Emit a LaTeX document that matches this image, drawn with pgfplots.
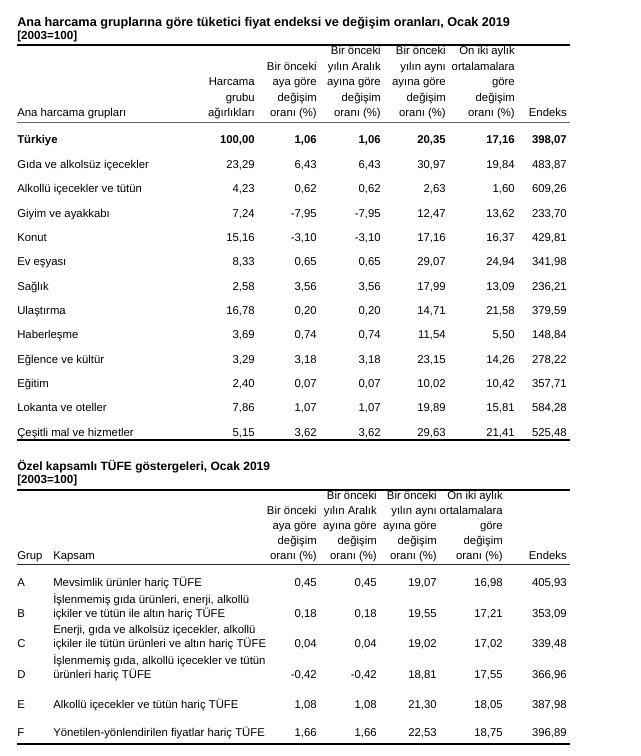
\documentclass[border=0pt]{standalone}
\usepackage{fontspec}
\setmainfont{Liberation Sans}
\usepackage{pgfplots}
\usepackage{pgfplotstable}
\pgfplotsset{compat=1.18}

% ---------- Table 1: Ana harcama grupları ----------
\pgfplotstableread{
i w aylik aralik yillik ortalama endeks
0 100.00 1.06 1.06 20.35 17.16 398.07
}\tabTR
\pgfplotstableread{
i w aylik aralik yillik ortalama endeks
1 23.29 6.43 6.43 30.97 19.84 483.87
2 4.23 0.62 0.62 2.63 1.60 609.26
3 7.24 -7.95 -7.95 12.47 13.62 233.70
4 15.16 -3.10 -3.10 17.16 16.37 429.81
5 8.33 0.65 0.65 29.07 24.94 341.98
6 2.58 3.56 3.56 17.99 13.09 236.21
7 16.78 0.20 0.20 14.71 21.58 379.59
8 3.69 0.74 0.74 11.54 5.50 148.84
9 3.29 3.18 3.18 23.15 14.26 278.22
10 2.40 0.07 0.07 10.02 10.42 357.71
11 7.86 1.07 1.07 19.89 15.81 584.28
12 5.15 3.62 3.62 29.63 21.41 525.48
}\tabGroups
\pgfplotstableread{
i t
1 {Gıda ve alkolsüz içecekler}
2 {Alkollü içecekler ve tütün}
3 {Giyim ve ayakkabı}
4 {Konut}
5 {Ev eşyası}
6 {Sağlık}
7 {Ulaştırma}
8 {Haberleşme}
9 {Eğlence ve kültür}
10 {Eğitim}
11 {Lokanta ve oteller}
12 {Çeşitli mal ve hizmetler}
}\tabGroupNames
\pgfplotstableread{
x y t
255 86 Harcama
255 101.5 grubu
255 117 ağırlıkları
317 70.5 {Bir önceki}
317 86 {aya göre}
317 101.5 değişim
317 117 {oranı (\%)}
381 55 {Bir önceki}
381 70.5 {yılın Aralık}
381 86 {ayına göre}
381 101.5 değişim
381 117 {oranı (\%)}
446 55 {Bir önceki}
446 70.5 {yılın aynı}
446 86 {ayına göre}
446 101.5 değişim
446 117 {oranı (\%)}
515 55 {On iki aylık}
515 70.5 ortalamalara
515 86 göre
515 101.5 değişim
515 117 {oranı (\%)}
567 117 Endeks
}\tabHeadA

% ---------- Table 2: Özel kapsamlı TÜFE göstergeleri ----------
\pgfplotstableread{
y aylik aralik yillik ortalama endeks
586.5 0.45 0.45 19.07 16.98 405.93
617.3 0.18 0.18 19.55 17.21 353.09
647.3 0.04 0.04 19.02 17.02 339.48
678.3 -0.42 -0.42 18.81 17.55 366.96
708.3 1.08 1.08 21.30 18.05 387.98
736 1.66 1.66 22.53 18.75 396.89
}\tabSpecial
\pgfplotstableread{
x y t
17 586.5 A
53 586.5 {Mevsimlik ürünler hariç TÜFE}
53 603.3 {İşlenmemiş gıda ürünleri, enerji, alkollü}
17 617.3 B
53 617.3 {içkiler ve tütün ile altın hariç TÜFE}
53 633.3 {Enerji, gıda ve alkolsüz içecekler, alkollü}
17 647.3 C
53 647.3 {içkiler ile tütün ürünleri ve altın hariç TÜFE}
53 664 {İşlenmemiş gıda, alkollü içecekler ve tütün}
17 678.3 D
53 678.3 {ürünleri hariç TÜFE}
17 708.3 E
53 708.3 {Alkollü içecekler ve tütün hariç TÜFE}
17 736 F
53 736 {Yönetilen-yönlendirilen fiyatlar hariç TÜFE}
}\tabSpecialNames
\pgfplotstableread{
x y t
317 514 {Bir önceki}
317 529 {aya göre}
317 544 değişim
317 559 {oranı (\%)}
377 499 {Bir önceki}
377 514 {yılın Aralık}
377 529 {ayına göre}
377 544 değişim
377 559 {oranı (\%)}
437 499 {Bir önceki}
437 514 {yılın aynı}
437 529 {ayına göre}
437 544 değişim
437 559 {oranı (\%)}
503 499 {On iki aylık}
503 514 ortalamalara
503 529 göre
503 544 değişim
503 559 {oranı (\%)}
567 559 Endeks
}\tabHeadB
\pgfplotstableread{
x y t
17 117 {Ana harcama grupları}
17 559 Grup
53 559 Kapsam
}\tabHeadLeft
\pgfplotstableread{
x y t
17 39.5 {[2003=100]}
17 483.5 {[2003=100]}
}\tabBoldLeft

\newcommand{\cellfont}{\fontsize{8.5}{10}\selectfont}
\newcommand{\boldfont}{\bfseries\fontsize{8.5}{10}\selectfont}
\pgfplotsset{
  numR/.style={only marks, mark=none, nodes near coords, point meta=explicit,
    nodes near coords style={anchor=base east, inner sep=0pt, font=\cellfont, text=black}},
  txtR/.style={only marks, mark=none, nodes near coords, point meta=explicit symbolic,
    nodes near coords style={anchor=base east, inner sep=0pt, font=\cellfont, text=black}},
  txtL/.style={only marks, mark=none, nodes near coords, point meta=explicit symbolic,
    nodes near coords style={anchor=base west, inner sep=0pt, font=\cellfont, text=black}},
}

\begin{document}
\begin{tikzpicture}
\begin{axis}[
  width=480pt, height=567pt, scale only axis,
  xmin=0, xmax=640, ymin=0, ymax=756, y dir=reverse,
  axis lines=none, clip=false,
  /pgf/number format/fixed, /pgf/number format/fixed zerofill,
  /pgf/number format/precision=2, /pgf/number format/use comma,
  /pgf/number format/assume math mode=true,
]
\addplot[draw=none] coordinates {(0,0) (640,756)};

% titles
\addplot[txtL, nodes near coords style={font=\bfseries\fontsize{9.5}{11}\selectfont}]
  coordinates {(17,26.5) [{Ana harcama gruplarına göre tüketici fiyat endeksi ve değişim oranları, Ocak 2019}]};
\addplot[txtL, nodes near coords style={font=\bfseries\fontsize{9}{11}\selectfont}]
  coordinates {(17,470.5) [{Özel kapsamlı TÜFE göstergeleri, Ocak 2019}]};
\addplot[txtL, nodes near coords style={font=\bfseries\fontsize{8.75}{11}\selectfont}]
  table[x=x, y=y, meta=t] {\tabBoldLeft};

% rules
\addplot[black, line width=1.5pt] coordinates {(17,45.5) (570,45.5)};
\addplot[black!60, line width=0.5pt] coordinates {(17,122) (570,122)};
\addplot[black, line width=1.5pt] coordinates {(17,440) (570,440)};
\addplot[black, line width=1.5pt] coordinates {(17,489.5) (570,489.5)};
\addplot[black!85, line width=1pt] coordinates {(17,564.5) (570,564.5)};
\addplot[black, line width=1.5pt] coordinates {(17,743.5) (570,743.5)};

% headers
\addplot[txtR] table[x=x, y=y, meta=t] {\tabHeadA};
\addplot[txtR] table[x=x, y=y, meta=t] {\tabHeadB};
\addplot[txtL] table[x=x, y=y, meta=t] {\tabHeadLeft};

% table 1 names
\addplot[txtL, nodes near coords style={font=\boldfont}] coordinates {(17,144) [Türkiye]};
\addplot[txtL] table[x expr=17, y expr=144+24.35*\thisrow{i}, meta=t] {\tabGroupNames};

% table 1 Türkiye (bold)
\addplot[numR, nodes near coords style={font=\boldfont}] table[x expr=255, y expr=144, meta=w] {\tabTR};
\addplot[numR, nodes near coords style={font=\boldfont}] table[x expr=317, y expr=144, meta=aylik] {\tabTR};
\addplot[numR, nodes near coords style={font=\boldfont}] table[x expr=381, y expr=144, meta=aralik] {\tabTR};
\addplot[numR, nodes near coords style={font=\boldfont}] table[x expr=446, y expr=144, meta=yillik] {\tabTR};
\addplot[numR, nodes near coords style={font=\boldfont}] table[x expr=515, y expr=144, meta=ortalama] {\tabTR};
\addplot[numR, nodes near coords style={font=\boldfont}] table[x expr=567, y expr=144, meta=endeks] {\tabTR};

% table 1 groups
\addplot[numR] table[x expr=255, y expr=144+24.35*\thisrow{i}, meta=w] {\tabGroups};
\addplot[numR] table[x expr=317, y expr=144+24.35*\thisrow{i}, meta=aylik] {\tabGroups};
\addplot[numR] table[x expr=381, y expr=144+24.35*\thisrow{i}, meta=aralik] {\tabGroups};
\addplot[numR] table[x expr=446, y expr=144+24.35*\thisrow{i}, meta=yillik] {\tabGroups};
\addplot[numR] table[x expr=515, y expr=144+24.35*\thisrow{i}, meta=ortalama] {\tabGroups};
\addplot[numR] table[x expr=567, y expr=144+24.35*\thisrow{i}, meta=endeks] {\tabGroups};

% table 2
\addplot[txtL] table[x=x, y=y, meta=t] {\tabSpecialNames};
\addplot[numR] table[x expr=317, y=y, meta=aylik] {\tabSpecial};
\addplot[numR] table[x expr=377, y=y, meta=aralik] {\tabSpecial};
\addplot[numR] table[x expr=437, y=y, meta=yillik] {\tabSpecial};
\addplot[numR] table[x expr=503, y=y, meta=ortalama] {\tabSpecial};
\addplot[numR] table[x expr=567, y=y, meta=endeks] {\tabSpecial};
\end{axis}
\end{tikzpicture}
\end{document}
